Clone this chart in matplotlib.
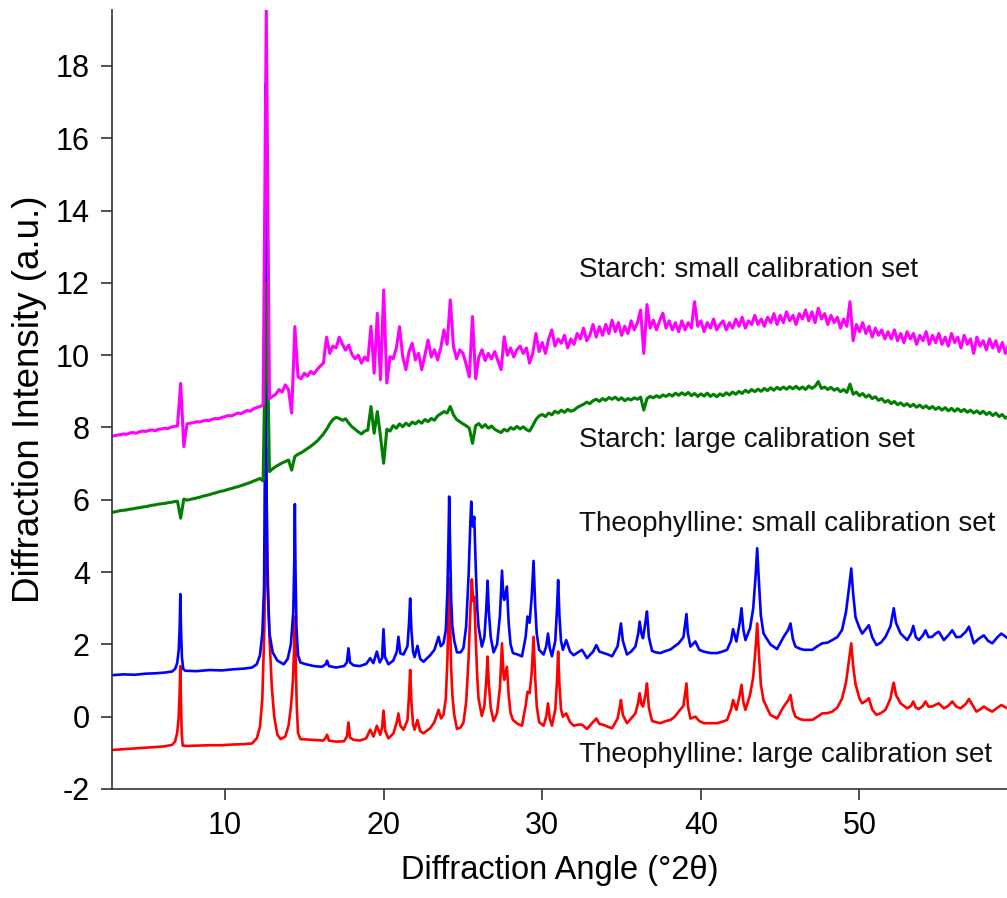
import matplotlib
matplotlib.use("Agg")
import matplotlib.pyplot as plt
import numpy as np

plt.rcParams["font.family"] = ["Liberation Sans", "DejaVu Sans"]
plt.rcParams["axes.unicode_minus"] = False

################################################################################
# ================================> Data <=====================================#
################################################################################

# Theophylline: small calibration set (blue), (angle, intensity)
theoSmallPoints = [
    (2.5, 1.12), (2.9, 1.15), (3.6, 1.17), (4.3, 1.16), (5.0, 1.19), (5.6, 1.20),
    (6.2, 1.22), (6.66, 1.25), (6.85, 1.32), (6.98, 1.48), (7.08, 1.85), (7.14, 2.5),
    (7.18, 3.39), (7.22, 2.45), (7.28, 1.65), (7.36, 1.32), (7.5, 1.27), (8.2, 1.26),
    (9.0, 1.29), (9.8, 1.28), (10.5, 1.31), (11.2, 1.33), (11.7, 1.36), (12.0, 1.45),
    (12.2, 1.7), (12.35, 2.3), (12.46, 3.6), (12.51, 7.0), (12.55, 17.5), (12.6, 7.0),
    (12.68, 3.6), (12.8, 2.3), (13.0, 1.78), (13.3, 1.55), (13.7, 1.45), (13.95, 1.6),
    (14.15, 2.0), (14.3, 2.9), (14.36, 4.2), (14.4, 5.88), (14.44, 4.1), (14.5, 2.5),
    (14.6, 1.7), (14.75, 1.5), (15.1, 1.45), (15.6, 1.40), (16.1, 1.38), (16.35, 1.45),
    (16.43, 1.55), (16.55, 1.40), (17.0, 1.36), (17.5, 1.40), (17.68, 1.5), (17.78, 1.89),
    (17.88, 1.5), (18.1, 1.42), (18.5, 1.40), (18.9, 1.46), (19.15, 1.62), (19.35, 1.48),
    (19.57, 1.80), (19.75, 1.50), (19.9, 1.62), (19.99, 2.42), (20.08, 1.65), (20.3, 1.45),
    (20.6, 1.55), (20.83, 1.80), (20.93, 2.21), (21.05, 1.75), (21.25, 1.72), (21.5, 1.95),
    (21.6, 2.6), (21.67, 3.27), (21.75, 2.4), (21.85, 1.8), (21.95, 1.65), (22.13, 1.96),
    (22.3, 1.60), (22.51, 1.52), (22.93, 1.70), (23.2, 1.85), (23.46, 2.21), (23.6, 1.95),
    (23.77, 2.03), (23.92, 2.4), (24.02, 3.5), (24.09, 5.0), (24.13, 6.09), (24.18, 4.9),
    (24.25, 3.3), (24.33, 2.5), (24.45, 2.1), (24.62, 1.78), (24.85, 1.78), (25.03, 1.9),
    (25.2, 2.5), (25.35, 3.87), (25.46, 5.3), (25.52, 5.95), (25.58, 5.3), (25.63, 5.26),
    (25.71, 5.53), (25.8, 4.2), (25.9, 3.0), (25.98, 2.49), (26.19, 1.94), (26.35, 2.2),
    (26.47, 3.0), (26.55, 3.76), (26.63, 2.9), (26.75, 2.2), (26.93, 1.78), (27.15, 2.0),
    (27.33, 2.8), (27.46, 4.04), (27.55, 3.3), (27.6, 3.23), (27.77, 3.6), (27.88, 2.6),
    (28.0, 2.0), (28.15, 1.76), (28.45, 1.72), (28.72, 1.67), (28.95, 2.2), (29.07, 2.77),
    (29.2, 2.6), (29.33, 3.3), (29.45, 4.31), (29.55, 3.1), (29.65, 2.3), (29.8, 1.85),
    (30.08, 1.72), (30.25, 1.95), (30.36, 2.30), (30.47, 1.9), (30.61, 1.67), (30.82, 2.1),
    (30.93, 3.0), (31.0, 3.78), (31.08, 2.8), (31.18, 2.1), (31.3, 1.85), (31.51, 2.12),
    (31.75, 1.80), (31.98, 1.70), (32.25, 1.78), (32.5, 1.85), (32.82, 1.62), (33.2, 1.80),
    (33.41, 1.98), (33.6, 1.80), (33.87, 1.76), (34.15, 1.72), (34.4, 1.67), (34.75, 1.95),
    (34.9, 2.4), (34.96, 2.58), (35.08, 2.1), (35.34, 1.72), (35.6, 1.8), (35.87, 1.94),
    (36.05, 2.3), (36.14, 2.63), (36.25, 2.3), (36.35, 2.17), (36.5, 2.6), (36.6, 2.91),
    (36.72, 2.2), (36.92, 1.82), (37.15, 1.78), (37.44, 1.76), (37.8, 1.82), (38.08, 1.86),
    (38.35, 1.95), (38.6, 2.03), (38.9, 2.2), (39.02, 2.6), (39.09, 2.84), (39.18, 2.3),
    (39.34, 1.94), (39.65, 2.08), (39.9, 1.85), (40.18, 1.80), (40.6, 1.76), (41.02, 1.76),
    (41.35, 1.80), (41.65, 1.85), (41.9, 2.1), (42.03, 2.42), (42.24, 2.08), (42.45, 2.6),
    (42.56, 3.00), (42.68, 2.4), (42.81, 2.12), (43.1, 2.45), (43.3, 3.0), (43.45, 3.9),
    (43.55, 4.66), (43.65, 3.8), (43.78, 2.8), (43.95, 2.3), (44.38, 2.0), (44.8, 1.87),
    (45.22, 2.21), (45.5, 2.4), (45.65, 2.58), (45.8, 2.15), (45.96, 1.94), (46.25, 1.88),
    (46.49, 1.85), (47.02, 1.85), (47.35, 1.95), (47.65, 2.03), (48.0, 2.05), (48.28, 2.12),
    (48.6, 2.2), (48.9, 2.4), (49.15, 2.9), (49.35, 3.6), (49.48, 4.10), (49.6, 3.4),
    (49.75, 2.75), (50.0, 2.45), (50.17, 2.30), (50.45, 2.45), (50.59, 2.53), (50.8, 2.2),
    (51.07, 1.98), (51.35, 2.05), (51.64, 2.21), (51.95, 2.5), (52.08, 2.8), (52.16, 3.00),
    (52.3, 2.6), (52.59, 2.30), (53.01, 2.12), (53.25, 2.3), (53.39, 2.51), (53.55, 2.2),
    (53.74, 2.12), (54.0, 2.25), (54.16, 2.39), (54.35, 2.2), (54.58, 2.21), (54.8, 2.3),
    (55.0, 2.35), (55.32, 2.12), (55.6, 2.25), (55.85, 2.39), (56.1, 2.2), (56.37, 2.21),
    (56.7, 2.35), (56.9, 2.49), (57.21, 2.03), (57.5, 2.15), (57.84, 2.25), (58.1, 2.1),
    (58.37, 2.03), (58.7, 2.2), (58.94, 2.30), (59.5, 2.12)]

# Theophylline: large calibration set (red)
theoLargePoints = [
    (2.5, -0.95), (2.9, -0.92), (3.6, -0.90), (4.3, -0.88), (5.0, -0.86), (5.6, -0.84),
    (6.2, -0.82), (6.66, -0.78), (6.85, -0.68), (6.98, -0.45), (7.07, -0.05), (7.13, 0.6),
    (7.18, 1.40), (7.22, 0.4), (7.27, -0.5), (7.33, -0.80), (7.6, -0.81), (8.3, -0.80),
    (9.0, -0.79), (9.8, -0.79), (10.5, -0.77), (11.2, -0.76), (11.7, -0.74), (12.0, -0.6),
    (12.2, -0.28), (12.35, 0.5), (12.48, 2.5), (12.54, 5.0), (12.58, 7.5), (12.66, 4.5),
    (12.8, 2.2), (12.95, 0.8), (13.1, 0.0), (13.3, -0.5), (13.5, -0.62), (13.8, -0.55),
    (14.0, -0.25), (14.15, 0.25), (14.28, 1.0), (14.36, 2.0), (14.4, 2.77), (14.45, 1.6),
    (14.52, 0.3), (14.6, -0.45), (14.75, -0.62), (15.49, -0.64), (16.2, -0.66), (16.35, -0.58),
    (16.43, -0.50), (16.55, -0.66), (17.0, -0.69), (17.5, -0.68), (17.68, -0.55), (17.78, -0.16),
    (17.88, -0.58), (18.1, -0.64), (18.5, -0.66), (18.9, -0.60), (19.15, -0.36), (19.36, -0.55),
    (19.57, -0.25), (19.78, -0.50), (19.9, -0.3), (19.99, 0.17), (20.1, -0.4), (20.3, -0.60),
    (20.62, -0.46), (20.83, -0.15), (20.93, 0.09), (21.05, -0.25), (21.25, -0.36), (21.5, -0.1),
    (21.6, 0.6), (21.67, 1.29), (21.75, 0.4), (21.85, -0.2), (21.95, -0.36), (22.13, -0.09),
    (22.3, -0.40), (22.51, -0.46), (22.93, -0.32), (23.2, -0.15), (23.46, 0.19), (23.62, -0.05),
    (23.77, 0.05), (23.92, 0.5), (24.02, 1.6), (24.09, 2.9), (24.13, 3.83), (24.18, 2.8),
    (24.25, 1.4), (24.33, 0.6), (24.45, 0.05), (24.62, -0.34), (24.85, -0.3), (25.03, -0.16),
    (25.2, 0.4), (25.35, 1.57), (25.47, 3.0), (25.56, 3.80), (25.64, 3.2), (25.71, 3.32),
    (25.8, 2.2), (25.9, 1.1), (25.98, 0.5), (26.19, 0.02), (26.35, 0.3), (26.47, 1.0),
    (26.55, 1.66), (26.63, 0.9), (26.75, 0.25), (26.93, -0.12), (27.15, 0.1), (27.33, 0.8),
    (27.46, 2.03), (27.55, 1.2), (27.6, 1.02), (27.77, 1.38), (27.88, 0.6), (28.0, 0.1),
    (28.15, -0.09), (28.45, -0.2), (28.72, -0.25), (28.95, 0.3), (29.07, 0.69), (29.2, 0.65),
    (29.33, 1.2), (29.45, 2.21), (29.55, 1.1), (29.65, 0.3), (29.8, -0.15), (30.08, -0.25),
    (30.25, 0.0), (30.36, 0.37), (30.47, -0.05), (30.61, -0.25), (30.82, 0.2), (30.93, 1.0),
    (31.0, 1.80), (31.08, 0.9), (31.18, 0.2), (31.3, 0.0), (31.51, 0.09), (31.75, -0.15),
    (31.98, -0.25), (32.25, -0.22), (32.5, -0.22), (32.82, -0.34), (33.2, -0.15), (33.41, -0.05),
    (33.6, -0.2), (33.87, -0.23), (34.15, -0.28), (34.4, -0.32), (34.75, -0.05), (34.9, 0.3),
    (34.96, 0.46), (35.08, 0.05), (35.34, -0.18), (35.6, -0.05), (35.87, 0.09), (36.05, 0.4),
    (36.14, 0.65), (36.25, 0.35), (36.35, 0.28), (36.5, 0.6), (36.6, 0.92), (36.72, 0.25),
    (36.92, -0.12), (37.15, -0.15), (37.44, -0.18), (37.8, -0.12), (38.08, -0.09), (38.35, 0.0),
    (38.6, 0.14), (38.9, 0.3), (39.02, 0.7), (39.09, 0.92), (39.18, 0.3), (39.34, -0.05),
    (39.65, 0.0), (39.9, -0.12), (40.18, -0.18), (40.6, -0.18), (41.02, -0.18), (41.35, -0.14),
    (41.65, -0.09), (41.9, 0.2), (42.03, 0.46), (42.24, 0.19), (42.45, 0.6), (42.56, 0.88),
    (42.68, 0.4), (42.81, 0.19), (43.1, 0.6), (43.3, 1.1), (43.45, 1.9), (43.55, 2.58),
    (43.65, 1.8), (43.78, 0.9), (43.95, 0.45), (44.38, 0.05), (44.8, -0.05), (45.22, 0.28),
    (45.5, 0.45), (45.65, 0.60), (45.8, 0.2), (45.96, 0.0), (46.25, -0.07), (46.49, -0.09),
    (47.02, -0.09), (47.35, 0.0), (47.65, 0.09), (48.0, 0.1), (48.28, 0.14), (48.6, 0.25),
    (48.9, 0.5), (49.15, 0.95), (49.35, 1.6), (49.48, 2.03), (49.6, 1.4), (49.75, 0.9),
    (50.0, 0.5), (50.17, 0.37), (50.45, 0.45), (50.59, 0.51), (50.8, 0.2), (51.07, 0.05),
    (51.35, 0.1), (51.64, 0.19), (51.95, 0.5), (52.08, 0.8), (52.16, 0.94), (52.3, 0.6),
    (52.59, 0.37), (53.01, 0.23), (53.25, 0.3), (53.39, 0.42), (53.55, 0.25), (53.74, 0.21),
    (54.0, 0.3), (54.16, 0.42), (54.35, 0.28), (54.58, 0.28), (54.8, 0.33), (55.0, 0.37),
    (55.32, 0.23), (55.6, 0.3), (55.85, 0.42), (56.1, 0.28), (56.37, 0.23), (56.7, 0.35),
    (56.9, 0.49), (57.37, 0.14), (57.6, 0.2), (57.84, 0.28), (58.1, 0.2), (58.37, 0.14),
    (58.7, 0.25), (58.94, 0.32), (59.5, 0.19)]

# Starch traces are read on a 0.2 degree step from 2.0 to 59.8 degrees
starchAngle = np.linspace(2.0, 59.8, 290)

# Starch: small calibration set (magenta), one row per 2 degrees
starchSmallIntensity = [
    7.70, 7.71, 7.73, 7.74, 7.76, 7.77, 7.79, 7.80, 7.82, 7.81,
    7.85, 7.86, 7.84, 7.88, 7.90, 7.89, 7.92, 7.93, 7.91, 7.95,
    7.96, 7.98, 7.97, 8.01, 8.03, 8.04, 9.22, 7.47, 8.10, 8.12,
    8.13, 8.16, 8.15, 8.18, 8.20, 8.19, 8.23, 8.25, 8.24, 8.28,
    8.30, 8.33, 8.32, 8.36, 8.40, 8.38, 8.43, 8.47, 8.45, 8.52,
    8.55, 8.58, 8.62, 19.55, 8.80, 8.86, 8.92, 9.05, 8.98, 9.18,
    9.05, 8.40, 10.79, 9.40, 9.35, 9.50, 9.42, 9.55, 9.48, 9.60,
    9.70, 9.78, 10.50, 10.05, 10.25, 10.20, 10.50, 10.30, 10.14, 10.28,
    10.02, 9.90, 10.00, 9.78, 9.95, 9.85, 10.80, 9.50, 11.16, 9.32,
    11.80, 9.23, 9.96, 9.90, 10.20, 10.79, 9.96, 9.60, 10.10, 10.33,
    9.87, 10.05, 9.60, 10.00, 10.42, 9.95, 10.15, 9.87, 10.20, 10.70,
    10.30, 11.53, 10.24, 9.90, 10.15, 10.05, 9.75, 9.40, 11.07, 9.35,
    9.95, 10.15, 9.85, 10.05, 9.90, 10.10, 9.85, 9.60, 10.51, 10.00,
    10.20, 9.95, 10.15, 10.25, 10.05, 10.20, 9.78, 10.05, 10.60, 10.10,
    10.35, 10.05, 10.45, 10.70, 10.25, 10.45, 10.33, 10.55, 10.20, 10.45,
    10.30, 10.60, 10.45, 10.75, 10.40, 10.55, 10.85, 10.50, 10.79, 10.55,
    10.85, 10.60, 10.97, 10.65, 10.90, 10.55, 10.80, 10.60, 10.95, 10.70,
    10.90, 11.25, 10.05, 11.40, 10.75, 10.97, 10.70, 10.95, 11.16, 10.75,
    10.95, 10.70, 10.90, 10.65, 10.95, 10.70, 10.90, 10.75, 11.48, 10.80,
    10.95, 10.65, 10.90, 10.75, 11.00, 10.70, 10.85, 10.95, 10.70, 10.90,
    10.75, 11.00, 10.80, 11.05, 10.75, 10.95, 10.85, 11.10, 10.85, 11.00,
    10.80, 11.05, 10.90, 11.15, 10.85, 11.10, 10.90, 11.20, 10.95, 11.10,
    10.85, 11.15, 11.00, 11.25, 10.95, 11.20, 10.90, 11.30, 11.00, 11.15,
    10.85, 11.10, 10.90, 11.05, 10.75, 11.00, 10.80, 11.48, 10.40, 10.85,
    10.65, 10.90, 10.60, 10.80, 10.50, 10.75, 10.55, 10.70, 10.45, 10.65,
    10.45, 10.70, 10.40, 10.60, 10.35, 10.65, 10.45, 10.60, 10.30, 10.55,
    10.40, 10.65, 10.30, 10.55, 10.35, 10.60, 10.30, 10.50, 10.25, 10.60,
    10.35, 10.50, 10.20, 10.55, 10.30, 10.45, 10.05, 10.50, 10.25, 10.40,
    10.15, 10.45, 10.20, 10.40, 10.10, 10.35, 10.05, 10.30, 10.15, 10.25]

# Starch: large calibration set (green), one row per 2 degrees
starchLargeIntensity = [
    5.60, 5.61, 5.62, 5.63, 5.65, 5.66, 5.68, 5.70, 5.71, 5.72,
    5.74, 5.75, 5.77, 5.78, 5.80, 5.81, 5.83, 5.85, 5.86, 5.88,
    5.89, 5.90, 5.92, 5.93, 5.95, 5.96, 5.49, 6.02, 5.99, 6.01,
    6.03, 6.05, 6.07, 6.10, 6.12, 6.14, 6.17, 6.19, 6.22, 6.24,
    6.26, 6.29, 6.31, 6.34, 6.36, 6.39, 6.42, 6.45, 6.48, 6.52,
    6.55, 6.59, 6.52, 12.00, 6.78, 6.86, 6.92, 6.97, 7.02, 7.06,
    7.10, 6.82, 7.20, 7.26, 7.30, 7.36, 7.42, 7.48, 7.55, 7.62,
    7.72, 7.82, 7.95, 8.10, 8.22, 8.28, 8.25, 8.20, 8.24, 8.12,
    8.02, 7.95, 7.88, 7.82, 7.90, 7.93, 8.58, 7.84, 8.44, 7.75,
    7.01, 7.95, 7.90, 8.05, 7.98, 8.10, 8.02, 8.12, 8.05, 8.15,
    8.10, 8.18, 8.12, 8.22, 8.16, 8.25, 8.20, 8.32, 8.38, 8.44,
    8.40, 8.58, 8.35, 8.22, 8.16, 8.10, 8.05, 7.98, 7.56, 8.05,
    8.11, 8.00, 8.08, 7.98, 8.04, 7.95, 7.90, 7.86, 7.95, 7.90,
    8.00, 7.95, 8.03, 7.96, 8.02, 7.94, 7.90, 8.05, 8.22, 8.32,
    8.36, 8.30, 8.40, 8.35, 8.45, 8.40, 8.48, 8.42, 8.50, 8.45,
    8.48, 8.55, 8.60, 8.64, 8.70, 8.66, 8.74, 8.78, 8.72, 8.80,
    8.75, 8.83, 8.78, 8.84, 8.76, 8.82, 8.74, 8.80, 8.76, 8.82,
    8.78, 8.84, 8.48, 8.80, 8.86, 8.82, 8.88, 8.83, 8.90, 8.86,
    8.92, 8.87, 8.95, 8.89, 8.96, 8.90, 8.97, 8.88, 8.94, 8.86,
    8.93, 8.87, 8.95, 8.86, 8.92, 8.85, 8.93, 8.88, 8.96, 8.90,
    8.98, 8.92, 9.00, 8.94, 9.03, 8.97, 9.05, 8.99, 9.06, 9.00,
    9.08, 9.02, 9.10, 9.03, 9.11, 9.05, 9.12, 9.06, 9.13, 9.07,
    9.14, 9.06, 9.12, 9.05, 9.15, 9.08, 9.14, 9.27, 9.08, 9.12,
    9.05, 9.11, 9.03, 9.08, 8.99, 9.05, 8.97, 9.20, 8.92, 8.98,
    8.88, 8.94, 8.84, 8.90, 8.80, 8.85, 8.75, 8.80, 8.70, 8.75,
    8.66, 8.72, 8.63, 8.68, 8.60, 8.66, 8.58, 8.64, 8.56, 8.62,
    8.54, 8.60, 8.52, 8.58, 8.50, 8.56, 8.48, 8.55, 8.46, 8.53,
    8.45, 8.52, 8.44, 8.50, 8.42, 8.48, 8.40, 8.46, 8.38, 8.45,
    8.36, 8.42, 8.33, 8.40, 8.30, 8.36, 8.26, 8.32, 8.24, 8.30]

# Curve labels
curveLabels = ["Starch: small calibration set",
               "Starch: large calibration set",
               "Theophylline: small calibration set",
               "Theophylline: large calibration set"]
labelAngle = [32.33, 32.33, 32.33, 32.33]
labelIntensity = [12.17, 7.47, 5.15, -1.25]

xTicks = [10, 20, 30, 40, 50]
yTicks = [-2, 0, 2, 4, 6, 8, 10, 12, 14, 16, 18]

################################################################################
# ================================> Plot <=====================================#
################################################################################

theoSmallAngle, theoSmallIntensity = zip(*theoSmallPoints)
theoLargeAngle, theoLargeIntensity = zip(*theoLargePoints)

fig = plt.figure(figsize=(10.07, 8.98), dpi=100)
axe = fig.add_axes([0.1112, 0.1214, 0.8888, 0.8675])

# Draw order: red under blue, green and magenta on top
axe.plot(theoLargeAngle, theoLargeIntensity, color="#ff0000", linewidth=1.9)
axe.plot(theoSmallAngle, theoSmallIntensity, color="#0000ff", linewidth=1.9)
axe.plot(starchAngle, starchLargeIntensity, color="#008000", linewidth=2.2)
axe.plot(starchAngle, starchSmallIntensity, color="#ff00ff", linewidth=2.2)

for text, xPos, yPos in zip(curveLabels, labelAngle, labelIntensity):
    axe.text(xPos, yPos, text, fontsize=20, color="#111111",
             ha="left", va="baseline")

# Axis settings
axe.set_xlim(2.87, 59.3)
axe.set_ylim(-2, 19.55)
axe.set_xticks(xTicks)
axe.set_yticks(yTicks)
axe.spines["top"].set_visible(False)
axe.spines["right"].set_visible(False)
for side in ["left", "bottom"]:
    axe.spines[side].set_linewidth(1.2)
    axe.spines[side].set_color("#333333")
axe.tick_params(direction="out", length=8, width=1.2, color="#333333",
                labelsize=22, pad=8)
axe.set_xlabel("Diffraction Angle (°2θ)", fontsize=23.5, labelpad=10)
axe.set_ylabel("Diffraction Intensity (a.u.)", fontsize=26.5, labelpad=6)

fig.savefig("out.png", dpi=100)
